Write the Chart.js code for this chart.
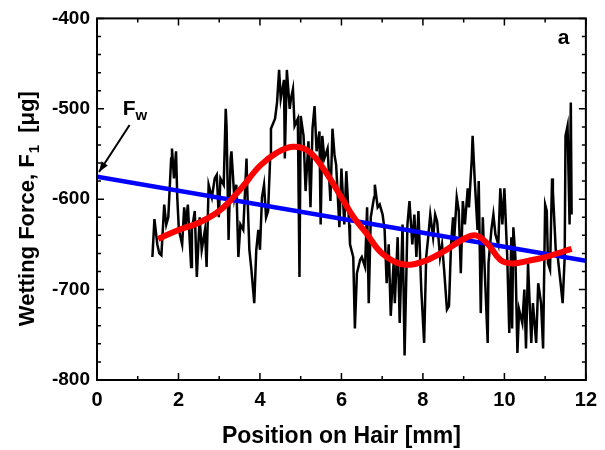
<!DOCTYPE html>
<html>
<head>
<meta charset="utf-8">
<script src="https://cdn.jsdelivr.net/npm/chart.js@4"></script>
<style>
  html, body { margin: 0; padding: 0; background: #fff; }
  #wrap { width: 605px; height: 450px; }
</style>
</head>
<body>
<div id="wrap"><canvas id="myChart"></canvas></div>
<script>
// measured wetting force along the hair (black trace)
var rawX = [1.36, 1.41, 1.48, 1.53, 1.58, 1.65, 1.70, 1.75, 1.82, 1.84, 1.89, 1.94, 1.97, 2.01, 2.09, 2.14, 2.18, 2.23, 2.31, 2.33,
    2.40, 2.45, 2.52, 2.57, 2.65, 2.69, 2.74, 2.82, 2.89, 2.94, 2.99, 3.03, 3.11, 3.16, 3.18, 3.23, 3.28, 3.30, 3.37, 3.42,
    3.47, 3.52, 3.59, 3.67, 3.69, 3.74, 3.79, 3.86, 3.91, 3.96, 4.00, 4.05, 4.10, 4.15, 4.20, 4.25, 4.27, 4.37, 4.42, 4.47,
    4.51, 4.59, 4.61, 4.66, 4.73, 4.76, 4.81, 4.85, 4.93, 4.97, 5.00, 5.07, 5.12, 5.19, 5.24, 5.29, 5.34, 5.39, 5.46, 5.49,
    5.53, 5.58, 5.66, 5.73, 5.78, 5.83, 5.87, 5.95, 6.00, 6.07, 6.12, 6.19, 6.21, 6.29, 6.33, 6.38, 6.46, 6.50, 6.58, 6.63,
    6.67, 6.72, 6.80, 6.82, 6.89, 6.94, 7.01, 7.06, 7.11, 7.16, 7.21, 7.28, 7.31, 7.38, 7.43, 7.50, 7.55, 7.62, 7.67, 7.74,
    7.79, 7.84, 7.89, 7.96, 8.03, 8.08, 8.13, 8.18, 8.25, 8.30, 8.35, 8.42, 8.47, 8.52, 8.59, 8.64, 8.69, 8.74, 8.76, 8.83,
    8.88, 8.93, 8.98, 9.03, 9.10, 9.13, 9.20, 9.22, 9.27, 9.34, 9.37, 9.42, 9.47, 9.51, 9.59, 9.61, 9.68, 9.73, 9.78, 9.85,
    9.90, 9.95, 10.00, 10.07, 10.12, 10.17, 10.19, 10.22, 10.27, 10.32, 10.36, 10.44, 10.49, 10.53, 10.58, 10.66, 10.70, 10.78, 10.83, 10.90,
    10.95, 11.00, 11.04, 11.07, 11.12, 11.17, 11.19, 11.26, 11.31, 11.38, 11.43, 11.48, 11.50, 11.55, 11.60, 11.63, 11.65];
var rawY = [-664, -622, -650, -660, -662, -606, -628, -620, -555, -544, -577, -547, -598, -634, -650, -609, -628, -606, -675, -634,
    -613, -686, -620, -656, -634, -675, -584, -598, -577, -573, -620, -577, -584, -500, -519, -645, -555, -547, -598, -584,
    -664, -628, -634, -555, -591, -656, -678, -715, -656, -634, -656, -598, -584, -620, -613, -555, -522, -511, -493, -457,
    -489, -468, -555, -457, -500, -489, -478, -519, -511, -686, -508, -530, -591, -536, -609, -522, -497, -547, -525, -628,
    -530, -555, -544, -602, -522, -551, -562, -631, -566, -628, -569, -628, -650, -664, -743, -682, -667, -664, -675, -609,
    -715, -620, -598, -584, -609, -606, -617, -634, -693, -650, -729, -671, -715, -642, -737, -628, -773, -628, -602, -650,
    -617, -664, -613, -700, -759, -664, -642, -617, -642, -617, -625, -664, -650, -678, -722, -718, -650, -620, -650, -598,
    -613, -682, -602, -628, -588, -609, -555, -530, -577, -634, -580, -726, -620, -671, -759, -671, -634, -617, -639, -650,
    -588, -628, -588, -664, -748, -642, -743, -631, -664, -770, -722, -737, -700, -765, -671, -759, -715, -759, -693, -715,
    -765, -606, -613, -671, -678, -577, -591, -656, -664, -693, -715, -664, -530, -519, -628, -493, -617];

// smoothed fit (red)
var fitX = [1.5, 2, 2.5, 3, 3.5, 4, 4.4, 4.8, 5.2, 5.6, 6, 6.3, 6.6, 7, 7.5, 8, 8.5, 9, 9.3, 9.6, 9.9, 10.2, 10.6, 11, 11.65];
var fitY = [-644, -634, -626, -613, -590, -563, -549, -542, -547, -569, -598, -620, -637, -660, -672, -669, -658, -644, -640, -650, -667, -671, -668, -664, -655];

// linear trend F_w (blue)
var trendX = [0, 12];
var trendY = [-575, -668];

var xTicks = [0, 2, 4, 6, 8, 10, 12];
var yTicks = [-400, -500, -600, -700, -800];

function pts(xs, ys) {
    return xs.map(function (x, i) { return { x: x, y: ys[i] }; });
}

var FONT = '"Liberation Sans", Arial, sans-serif';

var framePlugin = {
    id: 'frame',
    afterDraw: function (chart) {
        var c = chart.ctx, a = chart.chartArea;
        var xs = chart.scales.x, ys = chart.scales.y;
        c.save();
        c.strokeStyle = '#000';
        c.lineWidth = 2;
        c.strokeRect(a.left, a.top, a.right - a.left, a.bottom - a.top);

        // inward ticks on all four sides
        c.lineWidth = 1.5;
        c.beginPath();
        xs.ticks.forEach(function (t) {
            var px = xs.getPixelForValue(t.value);
            var len = xTicks.indexOf(t.value) >= 0 ? 7 : 4;
            c.moveTo(px, a.bottom); c.lineTo(px, a.bottom - len);
            c.moveTo(px, a.top); c.lineTo(px, a.top + len);
        });
        ys.ticks.forEach(function (t) {
            var py = ys.getPixelForValue(t.value);
            var len = yTicks.indexOf(t.value) >= 0 ? 7 : 4;
            c.moveTo(a.left, py); c.lineTo(a.left + len, py);
            c.moveTo(a.right, py); c.lineTo(a.right - len, py);
        });
        c.stroke();

        c.fillStyle = '#000';
        // x title
        c.font = 'bold 23px ' + FONT;
        c.textAlign = 'center';
        c.textBaseline = 'alphabetic';
        c.fillText('Position on Hair [mm]', (a.left + a.right) / 2, 443);

        // y title with subscript
        var p1 = 'Wetting Force, F', p2 = '1', p3 = '  [\u03bcg]';
        c.save();
        c.translate(34, (a.top + a.bottom) / 2 + 10);
        c.rotate(-Math.PI / 2);
        c.textAlign = 'left';
        c.font = 'bold 22px ' + FONT;
        var w1 = c.measureText(p1).width, w3 = c.measureText(p3).width;
        c.font = 'bold 15px ' + FONT;
        var w2 = c.measureText(p2).width;
        var x0 = -(w1 + w2 + w3) / 2;
        c.font = 'bold 22px ' + FONT;
        c.fillText(p1, x0, 0);
        c.font = 'bold 15px ' + FONT;
        c.fillText(p2, x0 + w1 + 1, 5);
        c.font = 'bold 22px ' + FONT;
        c.fillText(p3, x0 + w1 + w2 + 1, 0);
        c.restore();

        // panel letter
        c.font = 'bold 21px ' + FONT;
        c.textAlign = 'center';
        c.fillText('a', xs.getPixelForValue(11.45), ys.getPixelForValue(-428));

        // F_w label and arrow
        var fx = xs.getPixelForValue(0.63), fy = ys.getPixelForValue(-507);
        c.textAlign = 'left';
        c.font = 'bold 21px ' + FONT;
        c.fillText('F', fx, fy);
        var fw = c.measureText('F').width;
        c.font = 'bold 15px ' + FONT;
        c.fillText('w', fx + fw, fy + 5);

        var tx = xs.getPixelForValue(0.05), ty = ys.getPixelForValue(-570);
        var sx = xs.getPixelForValue(0.8), sy = ys.getPixelForValue(-518);
        c.lineWidth = 2;
        c.beginPath();
        c.moveTo(sx, sy); c.lineTo(tx, ty);
        c.stroke();
        var ang = Math.atan2(ty - sy, tx - sx), hl = 11;
        c.beginPath();
        c.moveTo(tx, ty);
        c.lineTo(tx - hl * Math.cos(ang - 0.35), ty - hl * Math.sin(ang - 0.35));
        c.lineTo(tx - hl * Math.cos(ang + 0.35), ty - hl * Math.sin(ang + 0.35));
        c.closePath();
        c.fill();
        c.restore();
    }
};

var ctx = document.getElementById('myChart').getContext('2d');
var myChart = new Chart(ctx, {
    type: 'scatter',
    data: {
        datasets: [{
            label: 'Fit',
            data: pts(fitX, fitY),
            showLine: true,
            borderColor: '#ff0000',
            borderWidth: 6,
            tension: 0.4,
            pointRadius: 0
        }, {
            label: 'Fw',
            data: pts(trendX, trendY),
            showLine: true,
            borderColor: '#0000ff',
            borderWidth: 4.5,
            pointRadius: 0
        }, {
            label: 'Wetting force',
            data: pts(rawX, rawY),
            showLine: true,
            borderColor: '#000000',
            borderWidth: 2.5,
            tension: 0,
            pointRadius: 0
        }]
    },
    options: {
        responsive: true,
        maintainAspectRatio: false,
        animation: false,
        events: [],
        layout: { padding: { left: 0, right: 14, top: 13, bottom: 0 } },
        plugins: {
            legend: { display: false },
            tooltip: { enabled: false }
        },
        scales: {
            x: {
                type: 'linear',
                min: 0,
                max: 12,
                grid: { display: false, drawTicks: false },
                border: { display: false },
                afterFit: function (s) { s.height = 70; },
                ticks: {
                    stepSize: 1,
                    autoSkip: false,
                    maxRotation: 0,
                    padding: 8,
                    color: '#000',
                    font: { family: FONT, size: 20, weight: 'bold' },
                    callback: function (v) { return xTicks.indexOf(v) >= 0 ? v : ''; }
                }
            },
            y: {
                type: 'linear',
                min: -800,
                max: -400,
                grid: { display: false, drawTicks: false },
                border: { display: false },
                afterFit: function (s) { s.width = 97; },
                ticks: {
                    stepSize: 20,
                    autoSkip: false,
                    padding: 7,
                    color: '#000',
                    font: { family: FONT, size: 19, weight: 'bold' },
                    callback: function (v) { return yTicks.indexOf(v) >= 0 ? v : ''; }
                }
            }
        }
    },
    plugins: [framePlugin]
});
</script>
</body>
</html>
